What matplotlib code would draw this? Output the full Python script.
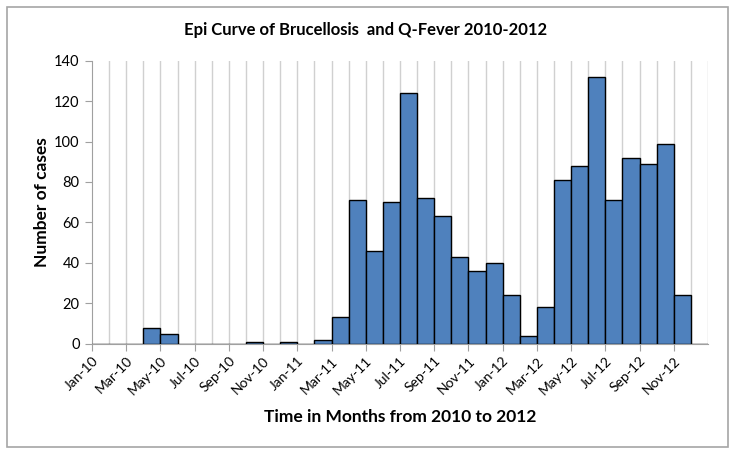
import matplotlib
matplotlib.use('Agg')
import matplotlib.pyplot as plt
from matplotlib.patches import Rectangle

plt.rcParams['font.family'] = ['Lato', 'DejaVu Sans']

# monthly case counts, Jan-10 .. Dec-12
months = ['Jan-10', 'Feb-10', 'Mar-10', 'Apr-10', 'May-10', 'Jun-10', 'Jul-10', 'Aug-10', 'Sep-10',
          'Oct-10', 'Nov-10', 'Dec-10', 'Jan-11', 'Feb-11', 'Mar-11', 'Apr-11', 'May-11', 'Jun-11',
          'Jul-11', 'Aug-11', 'Sep-11', 'Oct-11', 'Nov-11', 'Dec-11', 'Jan-12', 'Feb-12', 'Mar-12',
          'Apr-12', 'May-12', 'Jun-12', 'Jul-12', 'Aug-12', 'Sep-12', 'Oct-12', 'Nov-12', 'Dec-12']
cases = [0, 0, 0, 8, 5, 0, 0, 0, 0, 1, 0, 1, 0, 2, 13, 71, 46, 70,
         124, 72, 63, 43, 36, 40, 24, 4, 18, 81, 88, 132, 71, 92, 89, 99, 24, 0]
yticks = [0, 20, 40, 60, 80, 100, 120, 140]

fig = plt.figure(figsize=(7.36, 4.55), dpi=100)
ax = fig.add_axes([92/736, 1-343.7/455, 616/736, 283/455])

x = list(range(len(months)))
ax.bar(x, cases, width=1.0, align='edge', color='#4f81bd', edgecolor='black', linewidth=1.0, zorder=3)

# month gridlines
for m in x[1:] + [len(months)]:
    ax.axvline(m, color='#d0d0d0', linewidth=1.0, zorder=0)

ax.set_xlim(0, len(months))
ax.set_ylim(0, 140)
ax.set_yticks(yticks)
ax.set_xticks(x[::2])
ax.set_xticklabels(months[::2], rotation=45, ha='right', rotation_mode='anchor', fontsize=10)
ax.tick_params(axis='x', length=5, color='#a0a0a0', pad=3)
ax.tick_params(axis='y', length=5, color='#a0a0a0', labelsize=10.5, pad=4)

for s in ['top', 'right']:
    ax.spines[s].set_visible(False)
for s in ['left', 'bottom']:
    ax.spines[s].set_color('#a0a0a0')

ax.set_ylabel('Number of cases', fontsize=12.5, fontweight='bold', labelpad=3)
ax.set_xlabel('Time in Months from 2010 to 2012', fontsize=12.5, fontweight='bold', labelpad=8)
fig.text(366/736, 1-30/455, 'Epi Curve of Brucellosis  and Q-Fever 2010-2012', ha='center', va='center',
         fontsize=12, fontweight='bold')

fig.patches.append(Rectangle((7/736, 1-447/455), 721/736, 440/455, transform=fig.transFigure,
                             fill=False, edgecolor='#a6a6a6', linewidth=1.2))

plt.savefig('out.png', dpi=100)
